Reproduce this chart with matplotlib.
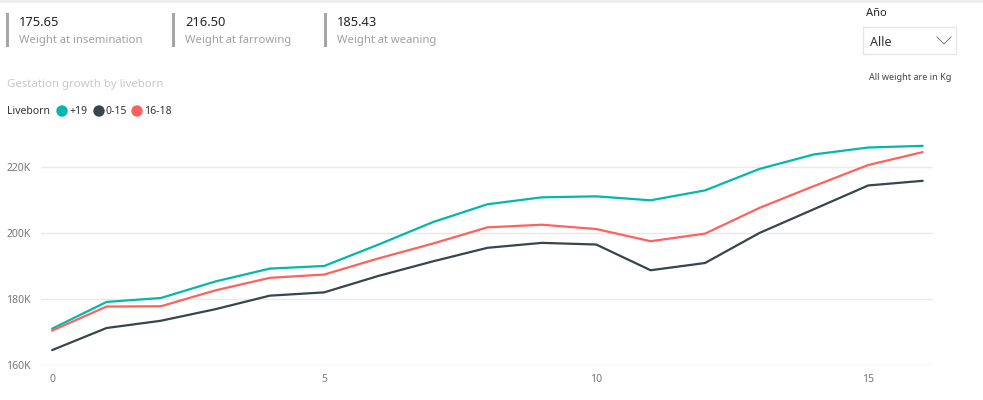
import numpy as np
import matplotlib
matplotlib.use("Agg")
import matplotlib.pyplot as plt
from matplotlib.ticker import FuncFormatter
from matplotlib.patches import Rectangle, Ellipse
from matplotlib.lines import Line2D

plt.rcParams['font.family'] = ['Noto Sans', 'DejaVu Sans']

# data
days = list(range(17))
w_19 = [171100, 179200, 180400, 185400, 189300, 190100, 196600, 203400, 208800,
        210900, 211200, 210000, 213000, 219500, 223900, 226000, 226500]
w_0_15 = [164600, 171300, 173500, 177000, 181100, 182100, 187100, 191500, 195600,
          197100, 196600, 188800, 191000, 200100, 207300, 214500, 215900]
w_16_18 = [170500, 177800, 177900, 182700, 186500, 187500, 192400, 196900, 201800,
           202600, 201300, 197600, 199900, 207700, 214300, 220700, 224600]
series_names = ['+19', '0-15', '16-18']
series_colors = ['#01B8AA', '#374649', '#FD625E']

cards = [('175.65', 'Weight at insemination'),
         ('216.50', 'Weight at farrowing'),
         ('185.43', 'Weight at weaning')]
card_x = [6, 172, 324]

W, H = 983, 400
fig = plt.figure(figsize=(W / 100, H / 100), dpi=100)

def fx(px):
    return px / W

def fy(py):
    return 1 - py / H

# main line chart
left, right, top, bottom = 40.7, 933, 140, 365.3
ax = fig.add_axes([fx(left), fy(bottom), fx(right - left), (bottom - top) / H])
for vals, col in zip([w_19, w_0_15, w_16_18], series_colors):
    ax.plot(days, vals, color=col, lw=1.6, solid_capstyle='round')

ax.set_xlim(-0.21, 16.19)
ax.set_ylim(160000, 160000 + (bottom - top) / 3.3 * 1000)
ax.set_yticks([160000, 180000, 200000, 220000])
ax.set_xticks([0, 5, 10, 15])
ax.yaxis.set_major_formatter(FuncFormatter(lambda v, p: '%dK' % (v / 1000)))
ax.grid(axis='y', color='#e9e9e9', lw=1)
ax.set_axisbelow(True)
for s in ax.spines.values():
    s.set_visible(False)
ax.tick_params(length=0, labelsize=7.5, labelcolor='#777777')
ax.tick_params(axis='y', pad=7)
ax.tick_params(axis='x', pad=6)

# top shadow line
fig.add_artist(Line2D([0, 1], [fy(1), fy(1)], color='#eeeeee', lw=2))

# cards
for (val, lab), cx in zip(cards, card_x):
    fig.add_artist(Rectangle((fx(cx), fy(47)), fx(3), 34 / H, color='#a6a6a6', lw=0))
    fig.text(fx(cx + 13), fy(23), val, fontsize=9.3, color='#252423', va='center')
    fig.text(fx(cx + 13), fy(40), lab, fontsize=8.1, color='#a0a0a0', va='center')

# chart title and legend
fig.text(fx(7), fy(85), 'Gestation growth by liveborn', fontsize=8.2, color='#c8c8c8', va='center')
fig.text(fx(7), fy(111), 'Liveborn', fontsize=7.5, color='#333333', va='center', fontweight='semibold')
leg_x = [62, 99, 137]
for lx, name, col in zip(leg_x, series_names, series_colors):
    fig.add_artist(Ellipse((fx(lx), fy(111)), 10 / W, 10 / H, color=col,
                           transform=fig.transFigure))
    fig.text(fx(lx + 7), fy(111), name, fontsize=7.5, color='#333333', va='center')

# slicer
fig.text(fx(866), fy(13), 'Año', fontsize=8, color='#252423', va='center')
fig.add_artist(Rectangle((fx(863), fy(54)), fx(93), 27 / H, fill=False,
                         edgecolor='#e6e6e6', lw=1))
fig.text(fx(870), fy(42), 'Alle', fontsize=9, color='#333333', va='center')
fig.add_artist(Line2D([fx(937), fx(944), fx(951)], [fy(37), fy(44), fy(37)],
                      color='#777777', lw=0.7))
fig.text(fx(869), fy(78), 'All weight are in Kg', fontsize=6.5, color='#444444', va='center')

fig.savefig('out.png', dpi=100)
